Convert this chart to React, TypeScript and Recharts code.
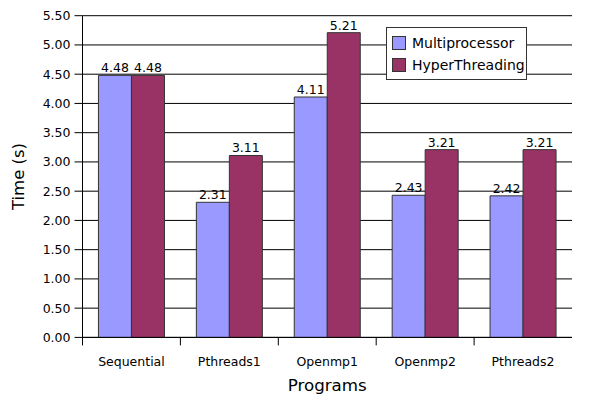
import React from 'react';
import { BarChart, Bar, XAxis, YAxis, CartesianGrid, Legend, LabelList, Label } from 'recharts';

const categories = ['Sequential', 'Pthreads1', 'Openmp1', 'Openmp2', 'Pthreads2'];
const seriesNames = ['Multiprocessor', 'HyperThreading'];
const multiprocessor = [4.48, 2.31, 4.11, 2.43, 2.42];
const hyperThreading = [4.48, 3.11, 5.21, 3.21, 3.21];
const yTicks = [0, 0.5, 1, 1.5, 2, 2.5, 3, 3.5, 4, 4.5, 5, 5.5];

const data = categories.map((c, i) => ({
  name: c,
  Multiprocessor: multiprocessor[i],
  HyperThreading: hyperThreading[i],
}));

const FONT = '"DejaVu Sans", Verdana, sans-serif';
const W = 590;
const H = 392;
const MARGIN = { top: 7.7, right: 26, left: 0, bottom: 0 };
const Y_AXIS_W = 74.5;
const BAND = (W - MARGIN.left - MARGIN.right - Y_AXIS_W) / categories.length;

const CategoryTick = (props: any) => {
  const { x, y, payload } = props;
  const half = payload && typeof payload.offset === 'number' && payload.offset > 0 ? payload.offset : BAND / 2;
  return (
    <g>
      <line x1={x - half} x2={x - half} y1={y - 8} y2={y} stroke="#000" strokeWidth={1} />
      <text x={x} y={y + 20.6} textAnchor="middle" fontSize={12.5} fill="#000" fontFamily={FONT}>
        {payload.value}
      </text>
    </g>
  );
};

const LegendBox = (props: any) => {
  const items = [...(props.payload || [])].sort(
    (a: any, b: any) => seriesNames.indexOf(a.value) - seriesNames.indexOf(b.value)
  );
  return (
    <div
      style={{
        position: 'relative',
        width: 141,
        height: 53,
        boxSizing: 'border-box',
        border: '1px solid #333',
        background: '#fff',
        fontFamily: FONT,
      }}
    >
      {items.map((it: any, i: number) => (
        <div key={i} style={{ position: 'absolute', left: 5, top: 8 + i * 22, height: 14, display: 'flex', alignItems: 'center' }}>
          <div style={{ width: 14, height: 14, boxSizing: 'border-box', background: it.color, border: '1px solid #333' }} />
          <span style={{ marginLeft: 6, fontSize: 14, lineHeight: '14px', color: '#000', whiteSpace: 'nowrap' }}>{it.value}</span>
        </div>
      ))}
    </div>
  );
};

export default function App() {
  return (
    <BarChart
      width={W}
      height={H}
      data={data}
      margin={MARGIN}
      barCategoryGap="16.3%"
      barGap={0}
      style={{ fontFamily: FONT }}
    >
      <CartesianGrid horizontal vertical={false} stroke="#000" strokeWidth={1} />
      <XAxis
        dataKey="name"
        height={62.6}
        tickSize={8}
        tickMargin={0}
        tickLine={false}
        axisLine={{ stroke: '#000', strokeWidth: 1 }}
        tick={<CategoryTick />}
        interval={0}
      >
        <Label
          content={(p: any) => {
            const vb = p.viewBox || {};
            return (
              <text
                x={vb.x + vb.width / 2}
                y={377}
                textAnchor="middle"
                dominantBaseline="central"
                fontSize={16.7}
                fill="#000"
                fontFamily={FONT}
              >
                Programs
              </text>
            );
          }}
        />
      </XAxis>
      <YAxis
        width={Y_AXIS_W}
        domain={[0, 5.5]}
        ticks={yTicks}
        interval={0}
        tickFormatter={(v: number) => v.toFixed(2)}
        tickSize={8}
        tickMargin={4}
        tick={{ fontSize: 12.5, fill: '#000', fontFamily: FONT }}
        tickLine={{ stroke: '#000' }}
        axisLine={{ stroke: '#000', strokeWidth: 1 }}
      >
        <Label
          content={(p: any) => {
            const vb = p.viewBox || {};
            const cy = vb.y + vb.height / 2;
            return (
              <text
                x={11}
                y={cy}
                transform={`rotate(-90, 11, ${cy})`}
                textAnchor="middle"
                dominantBaseline="central"
                fontSize={16.5}
                fill="#000"
                fontFamily={FONT}
              >
                Time (s)
              </text>
            );
          }}
        />
      </YAxis>
      <Legend
        layout="vertical"
        align="center"
        verticalAlign="middle"
        content={<LegendBox />}
        wrapperStyle={{ left: 378, top: 19, width: 141, height: 53 }}
      />
      <Bar dataKey="Multiprocessor" fill="#9999FF" stroke="#333" strokeWidth={1} isAnimationActive={false}>
        <LabelList
          dataKey="Multiprocessor"
          position="top"
          offset={3}
          formatter={(v: any) => Number(v).toFixed(2)}
          style={{ fontSize: 12.5, fill: '#000', fontFamily: FONT }}
        />
      </Bar>
      <Bar dataKey="HyperThreading" fill="#993366" stroke="#333" strokeWidth={1} isAnimationActive={false}>
        <LabelList
          dataKey="HyperThreading"
          position="top"
          offset={3}
          formatter={(v: any) => Number(v).toFixed(2)}
          style={{ fontSize: 12.5, fill: '#000', fontFamily: FONT }}
        />
      </Bar>
    </BarChart>
  );
}
